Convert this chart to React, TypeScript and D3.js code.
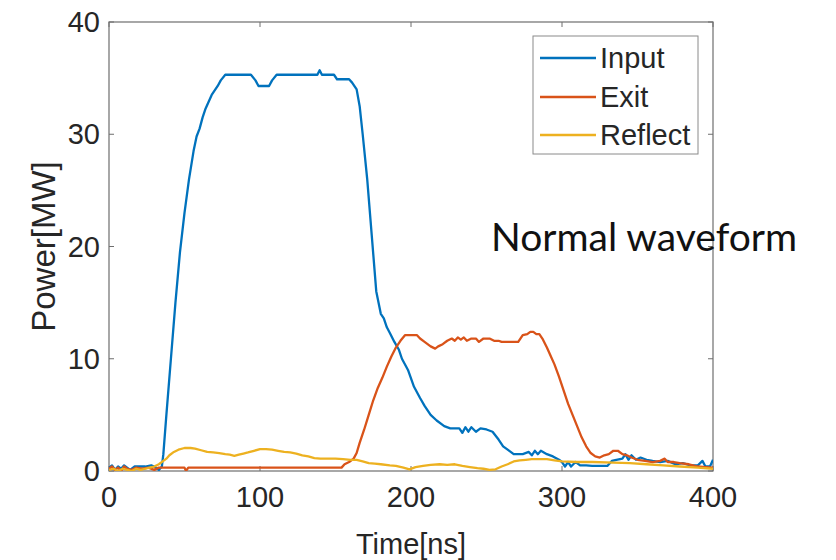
import React from "react";
import * as d3 from "d3";

const xTicks = [0, 100, 200, 300, 400];
const yTicks = [0, 10, 20, 30, 40];
const seriesNames = ["Input", "Exit", "Reflect"];
const seriesColors = ["#0072BD", "#D95319", "#EDB120"];

const inputTime = [0,2,4,6,8,10,12,14,17,20,24,28,31,33,35,36,38,41,44,47,50,53,56,58,60,62,64,66,68,70,72,74,77,94,97,99,106,108,111,138,139.5,141,149,151,159,161,164,166,168,171,174,177,180,182,184,186,189,192,194,198,202,206,209,213,217,222,226,232,234,236,238,240,243,246,250,254,258,261,264,268,270,274,278,280,282,284,286,290,294,298,300,302,304,306,309,312,316,320,325,330,333,336,340,342,344,346,349,352,356,360,365,370,375,380,385,390,393,395,398,400];
const inputPower = [0.3,0.5,0.1,0.4,0.2,0.5,0.3,0.1,0.4,0.4,0.4,0.5,0.3,0.1,0.4,1.5,5,10,15,19.5,23,26,28.5,29.8,30.5,31.5,32.3,32.9,33.5,33.9,34.3,34.8,35.3,35.3,34.8,34.3,34.3,34.8,35.3,35.3,35.7,35.3,35.3,34.9,34.9,34.6,34,32.5,30,26,21,16,14,13.6,12.8,12.3,11.5,10.8,10,9,7.5,6.5,5.8,5.0,4.5,4.0,3.8,3.8,3.4,3.9,3.5,3.9,3.5,3.8,3.7,3.5,2.8,2.2,1.9,1.5,1.5,1.5,1.7,1.4,1.8,1.5,1.8,1.5,1.3,1.0,0.8,0.4,0.8,0.4,0.8,0.5,0.5,0.45,0.45,0.45,0.9,1.0,1.1,1.5,1.0,1.4,1.0,1.2,1.0,0.9,0.8,0.9,0.6,0.7,0.5,0.5,0.9,0.4,0.4,1.0];

const exitTime = [0,2,4,6,8,10,12,15,18,22,26,30,33,36,50,51,52.5,154,156,159,162,164,166,169,172,175,178,181,184,187,190,193,196,204,206,209,213,216,218,221,224,227,229,231,233,235,237,240,243,245,248,252,255,258,260,271,274,277,279,281,283,285,287,290,292,295,298,301,304,307,310,313,316,319,322,325,328,331,334,337,340,343,346,350,355,360,365,368,370,374,378,384,390,395,400];
const exitPower = [0.2,0.4,0.1,0.3,0.0,0.4,0.2,0.1,0.3,0.2,0.3,0.1,0.3,0.3,0.3,0.0,0.3,0.3,0.6,0.8,1.1,1.6,2.5,3.7,5.0,6.3,7.4,8.3,9.3,10.2,11.0,11.6,12.1,12.1,11.8,11.5,11.1,10.9,11.1,11.3,11.6,11.8,11.6,11.9,11.7,11.9,11.6,11.8,11.8,11.5,11.8,11.8,11.6,11.6,11.5,11.5,12.1,12.2,12.4,12.4,12.2,12.2,11.8,11.0,10.4,9.5,8.4,7.2,6.0,5.0,4.0,3.0,2.2,1.6,1.3,1.2,1.4,1.5,1.8,1.8,1.5,1.4,1.2,1.0,0.9,0.8,0.9,1.1,0.8,0.8,0.7,0.6,0.4,0.35,0.3];

const reflectTime = [0,3,6,9,12,15,18,21,24,27,30,33,36,38,40,43,46,50,54,57,61,65,69,73,77,80,83,86,89,92,96,100,104,108,112,116,120,124,128,132,136,140,145,150,155,160,164,168,172,176,180,186,190,195,199,203,208,213,219,224,229,234,239,244,248,252,256,260,264,268,272,276,280,285,290,295,300,310,320,334,345,356,367,378,390,400];
const reflectPower = [0.1,0.2,0.0,0.2,0.1,0.0,0.2,0.1,0.2,0.3,0.4,0.6,0.9,1.1,1.4,1.7,1.9,2.05,2.05,2.0,1.85,1.7,1.65,1.6,1.5,1.45,1.35,1.45,1.55,1.65,1.8,1.95,1.95,1.9,1.8,1.7,1.65,1.55,1.4,1.3,1.15,1.1,1.1,1.1,1.05,1.0,1.0,0.85,0.7,0.65,0.6,0.5,0.45,0.3,0.15,0.35,0.45,0.55,0.6,0.55,0.6,0.45,0.35,0.25,0.2,0.1,0.15,0.4,0.6,0.85,0.95,1.0,1.05,1.05,1.05,0.95,0.85,0.8,0.8,0.75,0.7,0.6,0.5,0.4,0.3,0.2];

const W = 836;
const H = 560;
const left = 109, right = 713, top = 22, bottom = 471;

export default function App() {
  const x = d3.scaleLinear().domain([0, 400]).range([left, right]);
  const y = d3.scaleLinear().domain([0, 40]).range([bottom, top]);
  const line = d3
    .line<[number, number]>()
    .x((d) => x(d[0]))
    .y((d) => y(d[1]));

  const series = [
    { t: inputTime, v: inputPower },
    { t: exitTime, v: exitPower },
    { t: reflectTime, v: reflectPower },
  ];

  const font = "'Liberation Sans', Arial, sans-serif";
  const txt = "#262626";
  const axisCol = "#6e6e6e";

  const legX = 533, legY = 36, legW = 165, legH = 118;
  const rowY = [58, 97, 135];

  return (
    <svg
      width={W}
      height={H}
      style={{ position: "absolute", left: 0, top: 0, background: "#fff" }}
    >
      <rect x={0} y={0} width={W} height={H} fill="#fff" />
      <defs>
        <clipPath id="plot">
          <rect x={left} y={top} width={right - left} height={bottom - top} />
        </clipPath>
      </defs>
      <rect
        x={left}
        y={top}
        width={right - left}
        height={bottom - top}
        fill="none"
        stroke={axisCol}
        strokeWidth={1.2}
      />
      {xTicks.map((t) => (
        <g key={"xt" + t}>
          <line x1={x(t)} x2={x(t)} y1={bottom} y2={bottom - 5} stroke={axisCol} />
          <line x1={x(t)} x2={x(t)} y1={top} y2={top + 5} stroke={axisCol} />
          <text
            x={x(t)}
            y={507}
            textAnchor="middle"
            fontFamily={font}
            fontSize={29}
            fill={txt}
          >
            {t}
          </text>
        </g>
      ))}
      {yTicks.map((t) => (
        <g key={"yt" + t}>
          <line x1={left} x2={left + 5} y1={y(t)} y2={y(t)} stroke={axisCol} />
          <line x1={right} x2={right - 5} y1={y(t)} y2={y(t)} stroke={axisCol} />
          <text
            x={100}
            y={y(t) + 10}
            textAnchor="end"
            fontFamily={font}
            fontSize={29}
            fill={txt}
          >
            {t}
          </text>
        </g>
      ))}
      <g clipPath="url(#plot)">
        {series.map((s, i) => (
          <path
            key={seriesNames[i]}
            d={line(s.t.map((t, j) => [t, s.v[j]] as [number, number])) || ""}
            fill="none"
            stroke={seriesColors[i]}
            strokeWidth={2.3}
            strokeLinejoin="round"
          />
        ))}
      </g>
      <text
        x={(left + right) / 2}
        y={554}
        textAnchor="middle"
        fontFamily={font}
        fontSize={29}
        fill={txt}
      >
        Time[ns]
      </text>
      <text
        transform={`translate(55,${(top + bottom) / 2}) rotate(-90)`}
        textAnchor="middle"
        fontFamily={font}
        fontSize={33}
        fill={txt}
      >
        Power[MW]
      </text>
      <rect
        x={legX}
        y={legY}
        width={legW}
        height={legH}
        fill="#fff"
        stroke="#8a8a8a"
        strokeWidth={1}
      />
      {seriesNames.map((n, i) => (
        <g key={"lg" + n}>
          <line
            x1={540}
            x2={596}
            y1={rowY[i]}
            y2={rowY[i]}
            stroke={seriesColors[i]}
            strokeWidth={2.3}
          />
          <text
            x={600}
            y={rowY[i] + 10}
            fontFamily={font}
            fontSize={29}
            fill={txt}
          >
            {n}
          </text>
        </g>
      ))}
      <text x={491} y={251} fontFamily="Lato, 'Open Sans', sans-serif" fontSize={39} fill="#111">
        Normal waveform
      </text>
    </svg>
  );
}
